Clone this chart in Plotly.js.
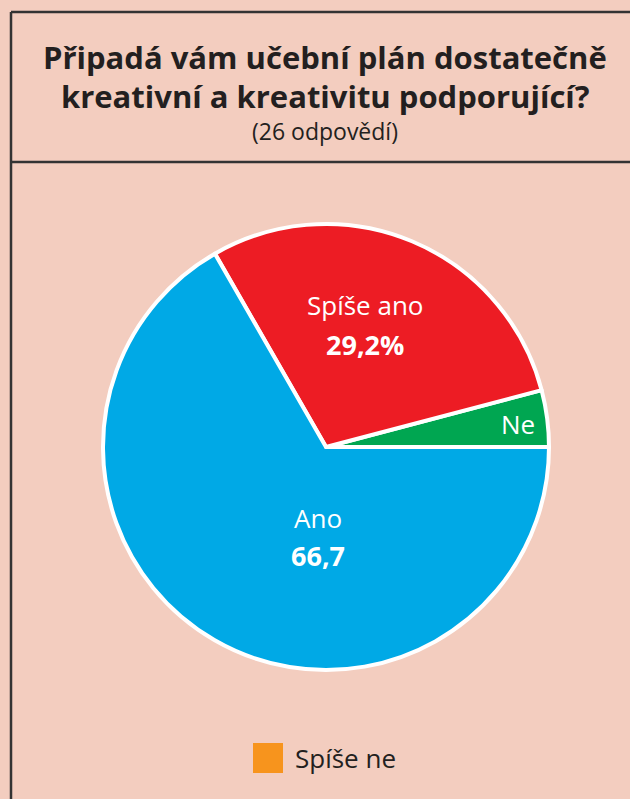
<!DOCTYPE html>
<html>
<head>
<meta charset="utf-8">
<script src="https://cdn.plot.ly/plotly-3.0.1.min.js"></script>
<style>
html,body{margin:0;padding:0;background:#f3cdbf;}
#chart{width:630px;height:799px;}
</style>
</head>
<body>
<div id="chart"></div>
<script>
// Data
const categories = ['Ne', 'Spíše ano', 'Ano', 'Spíše ne'];
const values = [4.1, 29.2, 66.7, 0];
const valueLabels = ['', '29,2%', '66,7', ''];
const colors = ['#00a651', '#ed1c24', '#00a9e6', '#f7941d'];
const titleLines = ['Připadá vám učební plán dostatečně', 'kreativní a kreativitu podporující?'];
const subtitle = '(26 odpovědí)';
const legendCategory = 'Spíše ne';
// label anchor positions inside the pie (paper px): name line y, value line y
const labelPos = [[518, 424, null], [365, 305, 345], [318, 518, 555], null];

const W = 630, H = 799;
const FONT = 'Open Sans, Noto Sans, sans-serif';
const total = values.reduce((a, b) => a + b, 0);

const trace = {
  type: 'pie',
  labels: categories,
  values: values,
  textinfo: 'none',
  sort: false,
  direction: 'counterclockwise',
  rotation: 90 - values[0] / total * 360,
  showlegend: false,
  hoverinfo: 'label+percent',
  marker: {colors: colors, line: {color: '#ffffff', width: 4}},
  domain: {x: [103 / W, 549 / W], y: [1 - 670 / H, 1 - 224 / H]}
};

const legIdx = categories.indexOf(legendCategory);

const annotations = [
  {text: '<b>' + titleLines[0] + '</b>', xref: 'paper', yref: 'paper', x: 325 / W, y: 1 - 57 / H, showarrow: false, xanchor: 'center', yanchor: 'middle', font: {size: 31, color: '#231f20', family: FONT}},
  {text: '<b>' + titleLines[1] + '</b>', xref: 'paper', yref: 'paper', x: 325 / W, y: 1 - 96 / H, showarrow: false, xanchor: 'center', yanchor: 'middle', font: {size: 31, color: '#231f20', family: FONT}},
  {text: subtitle, xref: 'paper', yref: 'paper', x: 325 / W, y: 1 - 131 / H, showarrow: false, xanchor: 'center', yanchor: 'middle', font: {size: 23, color: '#231f20', family: FONT}},
  {text: legendCategory, xref: 'paper', yref: 'paper', x: 293 / W, y: 1 - 758 / H, showarrow: false, xanchor: 'left', yanchor: 'middle', font: {size: 26, color: '#231f20', family: FONT}}
];
categories.forEach((c, i) => {
  if (!values[i] || !labelPos[i]) return;
  const p = labelPos[i];
  annotations.push({text: c, xref: 'paper', yref: 'paper', x: p[0] / W, y: 1 - p[1] / H,
    showarrow: false, xanchor: 'center', yanchor: 'middle',
    font: {size: 26, color: '#ffffff', family: FONT}});
  if (valueLabels[i] && p[2] != null) {
    annotations.push({text: '<b>' + valueLabels[i] + '</b>', xref: 'paper', yref: 'paper', x: p[0] / W, y: 1 - p[2] / H,
      showarrow: false, xanchor: 'center', yanchor: 'middle',
      font: {size: 27, color: '#ffffff', family: FONT}});
  }
});

const layout = {
  width: W, height: H,
  margin: {l: 0, r: 0, t: 0, b: 0},
  paper_bgcolor: '#f3cdbf',
  plot_bgcolor: '#f3cdbf',
  showlegend: false,
  font: {family: FONT, color: '#231f20'},
  shapes: [
    {type: 'line', xref: 'paper', yref: 'paper', x0: 11 / W, x1: 1.01, y0: 1 - 12 / H, y1: 1 - 12 / H, line: {color: '#333333', width: 2.5}},
    {type: 'line', xref: 'paper', yref: 'paper', x0: 11 / W, x1: 11 / W, y0: 1 - 12 / H, y1: -0.01, line: {color: '#333333', width: 2.5}},
    {type: 'line', xref: 'paper', yref: 'paper', x0: 11 / W, x1: 1.01, y0: 1 - 162 / H, y1: 1 - 162 / H, line: {color: '#333333', width: 2.5}},
    {type: 'rect', xref: 'paper', yref: 'paper', x0: 253 / W, x1: 283 / W, y0: 1 - 773 / H, y1: 1 - 743 / H, fillcolor: colors[legIdx], line: {width: 0}}
  ],
  annotations: annotations
};

Plotly.newPlot('chart', [trace], layout, {displayModeBar: false, staticPlot: true});
</script>
</body>
</html>
